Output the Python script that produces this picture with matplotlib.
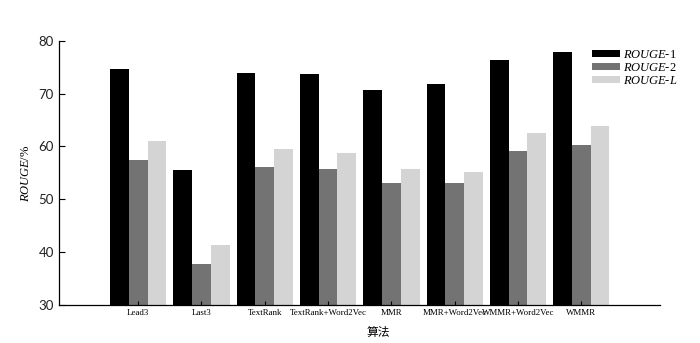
import matplotlib
matplotlib.use("Agg")
import matplotlib.pyplot as plt
import numpy as np

plt.rcParams['mathtext.fontset'] = 'custom'
plt.rcParams['mathtext.it'] = 'Liberation Serif:italic'
plt.rcParams['mathtext.rm'] = 'Liberation Serif'

methods = ["Lead3", "Last3", "TextRank", "TextRank+Word2Vec", "MMR",
           "MMR+Word2Vec", "WMMR+Word2Vec", "WMMR"]
rouge_1 = [74.6, 55.5, 73.9, 73.7, 70.7, 71.8, 76.4, 77.8]
rouge_2 = [57.4, 37.8, 56.1, 55.7, 53.0, 53.1, 59.1, 60.3]
rouge_l = [61.0, 41.4, 59.6, 58.7, 55.7, 55.2, 62.6, 63.9]
series_labels = [r"$\mathit{ROUGE}$-1", r"$\mathit{ROUGE}$-2", r"$\mathit{ROUGE}$-$\mathit{L}$"]
colors = ["#000000", "#737373", "#d4d4d4"]

fig = plt.figure(figsize=(7.0, 3.43), dpi=100)
ax = fig.add_axes([0.0847, 0.111, 0.858, 0.770])

x = np.arange(len(methods))
w = 0.296
for i, (vals, lab, c) in enumerate(zip([rouge_1, rouge_2, rouge_l], series_labels, colors)):
    ax.bar(x + (i - 1) * w, vals, width=w, color=c, label=lab, linewidth=0)

ax.set_xlim(-1.246, 8.24)
ax.set_ylim(30, 80)
ax.set_yticks(range(30, 81, 10))
ax.set_xticks(x)
ax.set_xticklabels(methods, fontfamily="Liberation Serif", fontsize=6.4)
for t in ax.get_yticklabels():
    t.set_fontfamily("Lato")
    t.set_fontsize(9.5)
    t.set_color("#222222")

ax.tick_params(axis='y', direction='in', length=4, width=0.8, pad=4)
ax.tick_params(axis='x', direction='in', length=3, width=0.8, pad=3)
for s in ["top", "right"]:
    ax.spines[s].set_visible(False)
for s in ["left", "bottom"]:
    ax.spines[s].set_linewidth(0.9)

ax.set_ylabel(r"$\mathit{ROUGE}$/%", fontfamily="Liberation Serif", fontsize=9)
ax.yaxis.set_label_coords(-0.046, 0.5)
ax.set_xlabel("算法", fontfamily=["Noto Sans CJK SC", "DejaVu Sans"], fontsize=8.5)
ax.xaxis.set_label_coords(0.531, -0.08)

leg = ax.legend(loc="upper left", bbox_to_anchor=(0.887, 0.968), frameon=False,
                prop={"family": "Liberation Serif", "size": 9},
                handlelength=2.2, handleheight=0.5, borderpad=0.0,
                handletextpad=0.3, labelspacing=0.05, borderaxespad=0.0)

fig.savefig("out.png", dpi=100, facecolor="white")
